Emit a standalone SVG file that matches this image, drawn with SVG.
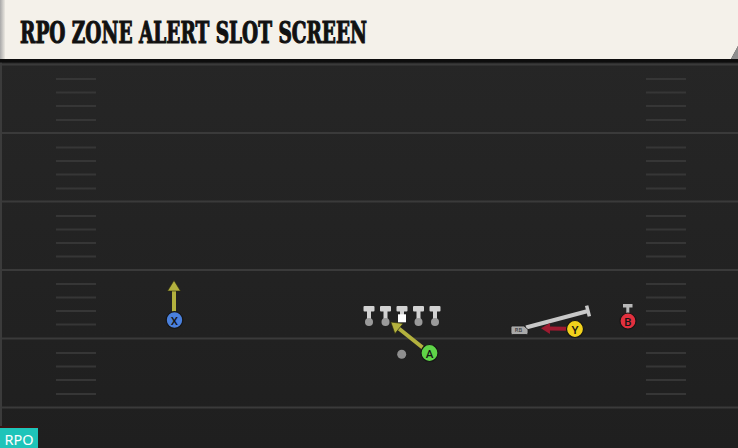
<svg xmlns="http://www.w3.org/2000/svg" width="738" height="448" viewBox="0 0 738 448">
<defs>
<style>
.yard{stroke:#3a3a3a;stroke-width:2}
.hash{stroke:#363636;stroke-width:2}
.circ{stroke:#151515;stroke-width:1.2}
.lbl{font-family:Roboto,"DejaVu Sans",sans-serif;font-weight:500;font-size:11.5px;fill:#151515;text-anchor:middle;dominant-baseline:central}
.olive{stroke:#b3b13e;stroke-width:4;fill:none}
.red{stroke:#9e1a30;stroke-width:4;fill:none}
.blk{stroke:#c8c8c8;fill:none}
.tee{fill:#d2d2d2}
.teed{fill:#9a9a9a}
</style>
<linearGradient id="field" x1="0" y1="0" x2="0" y2="1">
<stop offset="0" stop-color="#272727"/>
<stop offset="1" stop-color="#1f1f1f"/>
</linearGradient>
<linearGradient id="edge" x1="0" y1="0" x2="1" y2="0">
<stop offset="0" stop-color="#a8a8a8"/>
<stop offset="1" stop-color="#ebe8e1"/>
</linearGradient>
<marker id="headOlive" markerUnits="userSpaceOnUse" markerWidth="14" markerHeight="16" viewBox="0 -8 11 16" refX="1" refY="0" orient="auto">
<path d="M0,-6.5 L10.5,0 L0,6.5 Z" fill="#b3b13e" stroke="#2a2a10" stroke-width="0.6"/>
</marker>
<marker id="headRed" markerUnits="userSpaceOnUse" markerWidth="12" markerHeight="14" viewBox="0 -7 10 14" refX="1" refY="0" orient="auto">
<path d="M0,-5.5 L9,0 L0,5.5 Z" fill="#9e1a30"/>
</marker>
</defs>

<!-- field -->
<rect x="0" y="0" width="738" height="448" fill="url(#field)"/>
<rect x="0" y="60" width="2" height="388" fill="#3b3b3b"/>
<g id="field-lines">
<line class="yard" x1="2" y1="64.5" x2="738" y2="64.5"/>
<line class="yard" x1="2" y1="133" x2="738" y2="133"/>
<line class="yard" x1="2" y1="201.5" x2="738" y2="201.5"/>
<line class="yard" x1="2" y1="270" x2="738" y2="270"/>
<line class="yard" x1="2" y1="338.5" x2="738" y2="338.5"/>
<line class="yard" x1="2" y1="407.5" x2="738" y2="407.5"/>
<path class="hash" d="M56,79H96M56,92.5H96M56,106H96M56,120H96M56,147.5H96M56,161H96M56,174.5H96M56,188.5H96M56,216H96M56,229.5H96M56,243H96M56,256.5H96M56,284H96M56,297.5H96M56,311H96M56,324.5H96M56,353H96M56,366.5H96M56,380H96M56,394H96"/>
<path class="hash" d="M646,79H686M646,92.5H686M646,106H686M646,120H686M646,147.5H686M646,161H686M646,174.5H686M646,188.5H686M646,216H686M646,229.5H686M646,243H686M646,256.5H686M646,284H686M646,297.5H686M646,311H686M646,324.5H686M646,353H686M646,366.5H686M646,380H686M646,394H686"/>
</g>

<!-- header -->
<g id="header">
<rect x="0" y="59" width="738" height="3.5" fill="#0d0d0d"/>
<path d="M0,0 H738 V46 L731,59 H0 Z" fill="#f4f1ea"/>
<path d="M731,59 L738,46 V59 Z" fill="#8e8e8e"/>
<rect x="0" y="0" width="5" height="59" fill="url(#edge)"/>
<text x="20" y="42.5" font-family="'DejaVu Serif Condensed','DejaVu Serif',serif" font-stretch="condensed" font-weight="bold" font-size="29" fill="#111" stroke="#111" stroke-width="1.1" stroke-linejoin="miter" textLength="347" lengthAdjust="spacingAndGlyphs">RPO ZONE ALERT SLOT SCREEN</text>
</g>

<!-- connectors -->
<g id="connectors">
<line class="olive" x1="174" y1="311.5" x2="174" y2="290" marker-end="url(#headOlive)"/>
<line class="olive" x1="422.9" y1="347.7" x2="398.2" y2="328" marker-end="url(#headOlive)"/>
<line class="blk" stroke-width="4" x1="526" y1="327.5" x2="588" y2="311"/>
<line class="blk" stroke-width="3.5" x1="586.6" y1="305.6" x2="589.4" y2="316.4"/>
<line class="red" x1="566" y1="328.8" x2="549" y2="328.5" marker-end="url(#headRed)"/>
</g>

<!-- offensive line -->
<g id="LT"><rect class="tee" x="363.5" y="306" width="11" height="5.5" rx="1"/><rect class="tee" x="367" y="310" width="4" height="9"/><circle class="teed" cx="369" cy="322" r="4"/></g>
<g id="LG"><rect class="tee" x="380" y="306" width="11" height="5.5" rx="1"/><rect class="tee" x="383.5" y="310" width="4" height="9"/><circle class="teed" cx="385.5" cy="322" r="4"/></g>
<g id="C"><rect class="tee" x="396.5" y="306" width="11" height="5.5" rx="1"/><rect class="tee" x="400" y="310" width="4" height="5"/><rect x="398" y="314.3" width="8" height="8" fill="#ffffff"/></g>
<g id="RG"><rect class="tee" x="413" y="306" width="11" height="5.5" rx="1"/><rect class="tee" x="416.5" y="310" width="4" height="9"/><circle class="teed" cx="418.5" cy="322" r="4"/></g>
<g id="RT"><rect class="tee" x="429.5" y="306" width="11" height="5.5" rx="1"/><rect class="tee" x="433" y="310" width="4" height="9"/><circle class="teed" cx="435" cy="322" r="4"/></g>

<!-- QB -->
<g id="QB"><circle cx="401.7" cy="354.3" r="4.5" fill="#8f8f8f"/></g>

<!-- skill players -->
<g id="X"><circle class="circ" cx="174.5" cy="320" r="8.3" fill="#4a80dc"/><text class="lbl" x="174.5" y="320.5">X</text></g>
<g id="A"><circle class="circ" cx="429.5" cy="353" r="8.5" fill="#5fd448"/><text class="lbl" x="429.5" y="353.5">A</text></g>
<g id="RB"><path d="M512.5,326 H524 L528,329.5 V333 Q528,334.5 526.5,334.5 H512.5 Q511,334.5 511,333 V327.5 Q511,326 512.5,326 Z" fill="#a9a9a9" stroke="#1a1a1a" stroke-width="0.8"/><text x="518.5" y="332.3" font-family="'DejaVu Sans',sans-serif" font-size="5.5" fill="#2a2a2a" text-anchor="middle">RB</text></g>
<g id="Y"><circle class="circ" cx="575" cy="329" r="8.5" fill="#f2d21c"/><text class="lbl" x="575" y="329.5">Y</text></g>
<g id="B"><rect x="623" y="304" width="9.5" height="3.5" fill="#b8b8b8"/><rect x="626.3" y="307" width="3" height="6" fill="#b8b8b8"/><circle class="circ" cx="628" cy="321" r="8" fill="#e2303e"/><text class="lbl" x="628" y="321.5">B</text></g>

<!-- badge -->
<g id="badge">
<rect x="0" y="426" width="38" height="2" fill="#3a1414"/>
<rect x="0" y="428" width="38" height="20" fill="#1ec4b9"/>
<text x="4.5" y="445" font-family="'Noto Sans','Open Sans',sans-serif" font-size="14.5" fill="#ffffff" textLength="29" lengthAdjust="spacingAndGlyphs">RPO</text>
</g>
</svg>
